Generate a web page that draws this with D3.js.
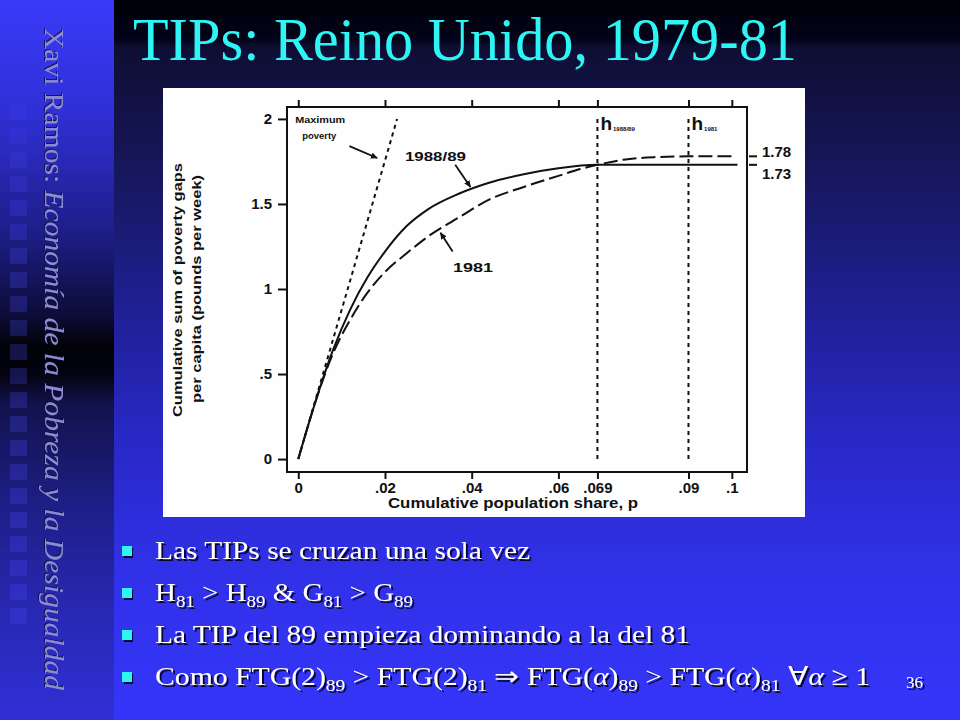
<!DOCTYPE html>
<html><head><meta charset="utf-8">
<script src="https://cdn.jsdelivr.net/npm/d3@7/dist/d3.min.js"></script>
<style>html,body{margin:0;padding:0;background:#000;} svg{display:block}
.serif{font-family:'Liberation Serif','Times New Roman',Times,'Nimbus Roman','Noto Serif',serif;}
.sans{font-family:'Liberation Sans',Arial,Helvetica,sans-serif;}
</style>
</head><body>
<svg id="c" width="960" height="720"></svg>
<script>
// ---------- data ----------
const titleText = "TIPs: Reino Unido, 1979-81";
const sideAuthor = "Xavi Ramos: ";
const sideCourse = "Economía de la Pobreza y la Desigualdad";
const pageNumber = "36";

const xTicks = [0, 0.02, 0.04, 0.06, 0.069, 0.09, 0.1];
const xTickLabels = ["0", ".02", ".04", ".06", ".069", ".09", ".1"];
const yTicks = [0, 0.5, 1, 1.5, 2];
const yTickLabels = ["0", ".5", "1", "1.5", "2"];
const xTitle = "Cumulative population share, p";
const yTitle1 = "Cumulative sum of poverty gaps";
const yTitle2 = "per capita (pounds per week)";

// TIP 1988/89 (solid)
const p8889   = [0, 0.004, 0.008, 0.012, 0.016, 0.02, 0.025, 0.03, 0.037, 0.044, 0.052, 0.06, 0.069, 0.1013];
const tip8889 = [0, 0.34,  0.64,  0.88,  1.07,  1.22, 1.37,  1.47, 1.56,  1.625, 1.675, 1.71, 1.73,  1.73];
// TIP 1981 (dashed)
const p1981   = [0, 0.004, 0.008, 0.012, 0.016, 0.02, 0.025, 0.03, 0.037, 0.044, 0.052, 0.06,  0.065, 0.069, 0.075, 0.082, 0.09, 0.1];
const tip1981 = [0, 0.34,  0.62,  0.82,  0.98,  1.10, 1.21,  1.31, 1.42,  1.525, 1.60,  1.665, 1.705, 1.73,  1.76,  1.775, 1.78, 1.78];
// maximum poverty line
const maxPovP = [0, 0.0228];
const maxPovTip = [0, 2.0];
// headcounts
const headcountP = [0.069, 0.09];
const headcountLabels = ["1988/89", "1981"];
const endValues = [1.78, 1.73];
const endLabels = ["1.78", "1.73"];

const bullets = [
  [{t:"Las TIPs se cruzan una sola vez"}],
  [{t:"H"},{t:"81",sub:1},{t:" > H"},{t:"89",sub:1},{t:" & G"},{t:"81",sub:1},{t:" > G"},{t:"89",sub:1}],
  [{t:"La TIP del 89 empieza dominando a la del 81"}],
  [{t:"Como FTG(2)"},{t:"89",sub:1},{t:" > FTG(2)"},{t:"81",sub:1},{t:" \u21D2 FTG("},{t:"\u03B1",it:1},{t:")"},{t:"89",sub:1},
   {t:" > FTG("},{t:"\u03B1",it:1},{t:")"},{t:"81",sub:1},{t:" \u2200"},{t:"\u03B1",it:1},{t:" \u2265 1"}]
];
const bulletWidths = [375, 258, 535, 715];

// ---------- drawing ----------
const svg = d3.select("#c");
const defs = svg.append("defs");

function vgrad(id, stops){
  const g = defs.append("linearGradient").attr("id", id).attr("x1",0).attr("y1",0).attr("x2",0).attr("y2",1);
  stops.forEach(s => g.append("stop").attr("offset", s[0]).attr("stop-color", s[1]));
}
vgrad("bgMain", [[0,"#000008"],[0.055,"#03031a"],[0.065,"#0e0e34"],[0.2,"#151552"],[0.4,"#1e1e8c"],[0.6,"#2828c4"],[0.8,"#3131ea"],[1,"#3535fa"]]);
vgrad("bgSide", [[0,"#3a3af8"],[0.15,"#3030d8"],[0.32,"#1e1e8a"],[0.44,"#0c0c36"],[0.48,"#020208"],[0.52,"#030310"],[0.56,"#12124c"],[0.7,"#1e1e86"],[0.85,"#2828b4"],[1,"#3030d6"]]);

const shadow = defs.append("filter").attr("id","sh").attr("x","-5%").attr("y","-20%").attr("width","115%").attr("height","150%");
shadow.append("feDropShadow").attr("dx",2).attr("dy",2).attr("stdDeviation",0.6).attr("flood-color","#000022").attr("flood-opacity",0.9);
const emb = defs.append("filter").attr("id","emb").attr("x","-20%").attr("y","-5%").attr("width","140%").attr("height","110%");
emb.append("feDropShadow").attr("dx",-1).attr("dy",1).attr("stdDeviation",0.4).attr("flood-color","#101040").attr("flood-opacity",0.9);

svg.append("rect").attr("width",960).attr("height",720).attr("fill","url(#bgMain)");
svg.append("rect").attr("width",114).attr("height",720).attr("fill","url(#bgSide)");

// sidebar squares
const sq = d3.range(22);
svg.append("g").selectAll("rect").data(sq).join("rect")
  .attr("x", 10).attr("y", d => 104 + d*24).attr("width", 17).attr("height", 16)
  .attr("fill", "#4a4aff").attr("opacity", d => 0.15 + 0.1*Math.min(1, d/6));

// sidebar text
const side = svg.append("text").attr("class","serif")
  .attr("transform", "translate(45,28) rotate(90)")
  .attr("font-size", 27).attr("fill", "#8c8cd4").attr("filter","url(#emb)")
  .attr("textLength", 662).attr("lengthAdjust","spacingAndGlyphs");
side.append("tspan").text(sideAuthor);
side.append("tspan").attr("font-style","italic").text(sideCourse);

// title
svg.append("text").attr("class","serif").attr("x",133).attr("y",60)
  .attr("font-size",62).attr("fill","#2ef4f4")
  .attr("textLength",664).attr("lengthAdjust","spacingAndGlyphs")
  .text(titleText);

// chart panel
svg.append("rect").attr("x",163).attr("y",88).attr("width",642).attr("height",429).attr("fill","#fefefe");

const x = d3.scaleLinear().domain([-0.0026, 0.1035]).range([287, 747]);
const y = d3.scaleLinear().domain([-0.076, 2.07]).range([472, 107]);

const g = svg.append("g").attr("class","sans");
g.append("rect").attr("x",x.range()[0]).attr("y",y.range()[1])
  .attr("width",x.range()[1]-x.range()[0]).attr("height",y.range()[0]-y.range()[1])
  .attr("fill","none").attr("stroke","#111").attr("stroke-width",2);

const axB = g.append("g").attr("transform",`translate(0,${y.range()[0]})`)
  .call(d3.axisBottom(x).tickValues(xTicks).tickFormat((d,i)=>xTickLabels[i]).tickSize(7).tickPadding(3));
const axT = g.append("g").attr("transform",`translate(0,${y.range()[1]})`)
  .call(d3.axisTop(x).tickValues(xTicks).tickFormat("").tickSize(7));
const axL = g.append("g").attr("transform",`translate(${x.range()[0]},0)`)
  .call(d3.axisLeft(y).tickValues(yTicks).tickFormat((d,i)=>yTickLabels[i]).tickSize(9).tickPadding(6));
[axB, axT, axL].forEach(a => {
  a.attr("font-family", null);
  a.select(".domain").remove();
  a.selectAll("line").attr("stroke","#111").attr("stroke-width",2);
  a.selectAll("text").attr("font-weight","bold").attr("font-size",15).attr("fill","#111");
});

// right end labels
const xr = x.range()[1];
g.selectAll(".endtick").data(endValues).join("line")
  .attr("x1", xr+2).attr("x2", xr+10).attr("y1", d=>y(d)).attr("y2", d=>y(d))
  .attr("stroke","#111").attr("stroke-width",2);
g.selectAll(".endlab").data(endLabels).join("text")
  .attr("x", xr+15).attr("y", (d,i)=> y(endValues[i]) + (i===0 ? 1 : 14))
  .attr("font-weight","bold").attr("font-size",15).attr("fill","#111")
  .text(d=>d);

// axis titles
g.append("text").attr("x", 388).attr("y", 508)
  .attr("font-weight","bold").attr("font-size",14).attr("fill","#111")
  .attr("textLength",250).attr("lengthAdjust","spacingAndGlyphs").text(xTitle);
g.append("text").attr("transform","translate(182,417) rotate(-90)")
  .attr("font-weight","bold").attr("font-size",13).attr("fill","#111")
  .attr("textLength",254).attr("lengthAdjust","spacingAndGlyphs").text(yTitle1);
g.append("text").attr("transform","translate(201,403) rotate(-90)")
  .attr("font-weight","bold").attr("font-size",13).attr("fill","#111")
  .attr("textLength",228).attr("lengthAdjust","spacingAndGlyphs").text(yTitle2);

// lines
const line = d3.line().x(d=>x(d[0])).y(d=>y(d[1])).curve(d3.curveMonotoneX);
g.append("path").datum(d3.zip(maxPovP, maxPovTip)).attr("d", d3.line().x(d=>x(d[0])).y(d=>y(d[1])))
  .attr("fill","none").attr("stroke","#111").attr("stroke-width",2).attr("stroke-dasharray","4,4");
g.append("path").datum(d3.zip(p8889, tip8889)).attr("d", line)
  .attr("fill","none").attr("stroke","#111").attr("stroke-width",2);
g.append("path").datum(d3.zip(p1981, tip1981)).attr("d", line)
  .attr("fill","none").attr("stroke","#111").attr("stroke-width",2).attr("stroke-dasharray","14,5");

// headcount verticals
g.selectAll(".hc").data(headcountP).join("line")
  .attr("x1", d=>x(d)).attr("x2", d=>x(d)).attr("y1", y(0)).attr("y2", y(2))
  .attr("stroke","#111").attr("stroke-width",2).attr("stroke-dasharray","4,4");
const hl = g.selectAll(".hl").data(headcountP).join("text")
  .attr("x", d=>x(d)+3).attr("y", y(2)+11).attr("fill","#111");
hl.append("tspan").attr("font-size",19).attr("font-weight","bold").text("h");
hl.append("tspan").attr("font-size",6).attr("font-weight","bold").attr("dy",1).attr("dx",1).text((d,i)=>headcountLabels[i]);

// annotations
const marker = defs.append("marker").attr("id","ah").attr("viewBox","0 -5 10 10").attr("refX",9).attr("refY",0)
  .attr("markerWidth",7).attr("markerHeight",7).attr("orient","auto").attr("markerUnits","userSpaceOnUse");
marker.append("path").attr("d","M0,-4.5L10,0L0,4.5Z").attr("fill","#111");

g.append("text").attr("x", x(0)-3).attr("y", y(2)+4).attr("font-weight","bold")
  .attr("font-size",9).attr("fill","#111").attr("textLength",50).attr("lengthAdjust","spacingAndGlyphs").text("Maximum");
g.append("text").attr("x", x(0)+4).attr("y", y(2)+20).attr("font-weight","bold")
  .attr("font-size",9).attr("fill","#111").attr("textLength",34).attr("lengthAdjust","spacingAndGlyphs").text("poverty");
g.append("line").attr("x1", x(0.0118)).attr("y1", y(1.84)).attr("x2", x(0.0182)).attr("y2", y(1.77))
  .attr("stroke","#111").attr("stroke-width",1.8).attr("marker-end","url(#ah)");

g.append("text").attr("x", x(0.0246)).attr("y", y(1.755)).attr("font-weight","bold")
  .attr("font-size",13).attr("fill","#111").attr("textLength",61).attr("lengthAdjust","spacingAndGlyphs").text("1988/89");
g.append("line").attr("x1", x(0.0362)).attr("y1", y(1.73)).attr("x2", x(0.0397)).attr("y2", y(1.6))
  .attr("stroke","#111").attr("stroke-width",1.8).attr("marker-end","url(#ah)");

g.append("text").attr("x", x(0.0357)).attr("y", y(1.1)).attr("font-weight","bold")
  .attr("font-size",13).attr("fill","#111").attr("textLength",40).attr("lengthAdjust","spacingAndGlyphs").text("1981");
g.append("line").attr("x1", x(0.0356)).attr("y1", y(1.22)).attr("x2", x(0.0328)).attr("y2", y(1.33))
  .attr("stroke","#111").attr("stroke-width",1.8).attr("marker-end","url(#ah)");

// bullets
const by = [559, 601, 643, 685];
const bg = svg.append("g");
bg.selectAll("rect").data(bullets).join("rect")
  .attr("x",122).attr("y",(d,i)=>by[i]-13).attr("width",10).attr("height",10)
  .attr("fill","#2ff4f4").attr("filter","url(#sh)");
bullets.forEach((segs,i)=>{
  const t = bg.append("text").attr("class","serif").attr("x",155).attr("y",by[i])
    .attr("font-size",26).attr("fill","#fff").attr("filter","url(#sh)")
    .attr("textLength",bulletWidths[i]).attr("lengthAdjust","spacingAndGlyphs");
  let shifted = false;
  segs.forEach(s=>{
    const ts = t.append("tspan").text(s.t);
    if (s.sub){ ts.attr("font-size",17).attr("dy", shifted?0:6); shifted = true; }
    else { if (shifted){ ts.attr("dy",-6); shifted=false; } }
    if (s.it) ts.attr("font-style","italic");
  });
});
svg.append("text").attr("class","serif").attr("x",906).attr("y",688)
  .attr("font-size",17).attr("fill","#fff").attr("filter","url(#sh)").text(pageNumber);
</script>
</body></html>
